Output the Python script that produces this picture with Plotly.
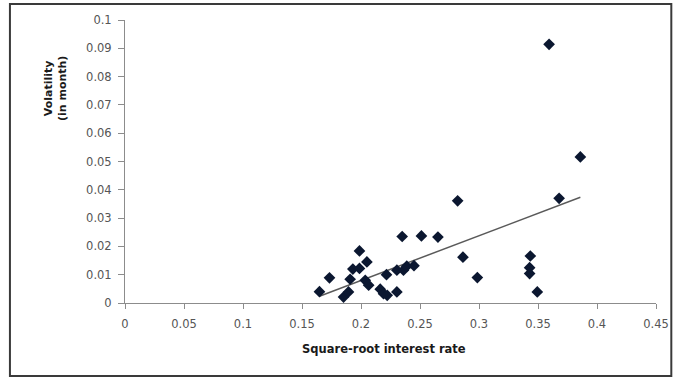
import numpy as np
import plotly.graph_objects as go

# Square-root interest rate (x) and volatility in month (y)
sqrt_rate = [0.1648, 0.1733, 0.1852, 0.1894, 0.1908, 0.1931, 0.1987, 0.1987,
             0.2050, 0.2036, 0.2065, 0.2163, 0.2191, 0.2222, 0.2216, 0.2304,
             0.2304, 0.2360, 0.2388, 0.2449, 0.2349, 0.2512, 0.2652, 0.2819,
             0.2864, 0.2986, 0.3435, 0.3429, 0.3429, 0.3494, 0.3679, 0.3594,
             0.3859]
volatility = [0.0040, 0.0089, 0.0021, 0.0039, 0.0084, 0.0120, 0.0122, 0.0184,
              0.0145, 0.0080, 0.0063, 0.0049, 0.0033, 0.0027, 0.0100, 0.0039,
              0.0116, 0.0116, 0.0130, 0.0132, 0.0235, 0.0237, 0.0233, 0.0361,
              0.0162, 0.0090, 0.0166, 0.0125, 0.0104, 0.0039, 0.0370, 0.0914,
              0.0516]

x_ticks = [0, 0.05, 0.1, 0.15, 0.2, 0.25, 0.3, 0.35, 0.4, 0.45]
x_tick_labels = ["0", "0.05", "0.1", "0.15", "0.2", "0.25", "0.3", "0.35", "0.4", "0.45"]
y_ticks = [0, 0.01, 0.02, 0.03, 0.04, 0.05, 0.06, 0.07, 0.08, 0.09, 0.1]
y_tick_labels = ["0", "0.01", "0.02", "0.03", "0.04", "0.05", "0.06", "0.07", "0.08", "0.09", "0.1"]

# Linear trendline (least squares) over the data range
slope, intercept = np.polyfit(sqrt_rate, volatility, 1)
trend_x = [min(sqrt_rate), max(sqrt_rate)]
trend_y = [slope * v + intercept for v in trend_x]

fig = go.Figure()
fig.add_trace(go.Scatter(
    x=trend_x, y=trend_y, mode="lines",
    line=dict(color="#5a5a5a", width=1.5), hoverinfo="skip", showlegend=False))
fig.add_trace(go.Scatter(
    x=sqrt_rate, y=volatility, mode="markers",
    marker=dict(symbol="diamond", size=9, color="#0b1730"), showlegend=False))

W, H = 680, 377
ml, mr, mt, mb = 125, 24.3, 20, 74.3
pw, ph = W - ml - mr, H - mt - mb


def px_x(p):
    return (p - ml) / pw


def px_y(p):
    return (H - mb - p) / ph


axis_font = dict(family="DejaVu Sans, Verdana, sans-serif", size=11.5, color="#555555")
title_font = dict(family="DejaVu Sans, Verdana, sans-serif", size=11, color="#1a1a1a")

fig.update_layout(
    width=W, height=H,
    margin=dict(l=ml, r=mr, t=mt, b=mb),
    paper_bgcolor="white", plot_bgcolor="white",
    xaxis=dict(range=[0, 0.45], tickvals=x_ticks, ticktext=x_tick_labels,
               showgrid=False, zeroline=False, showline=True, linecolor="#8c8c8c",
               linewidth=1, ticks="outside", ticklen=5, tickcolor="#8c8c8c",
               ticklabelstandoff=5, tickfont=axis_font, fixedrange=True),
    yaxis=dict(range=[0, 0.1], tickvals=y_ticks, ticktext=y_tick_labels,
               showgrid=False, zeroline=False, showline=True, linecolor="#8c8c8c",
               linewidth=1, ticks="outside", ticklen=6, tickcolor="#8c8c8c",
               ticklabelstandoff=4, tickfont=axis_font, fixedrange=True),
    shapes=[dict(type="rect", xref="paper", yref="paper",
                 x0=px_x(10), x1=px_x(671), y0=px_y(375.5), y1=px_y(4),
                 line=dict(color="#3a3a3a", width=2), fillcolor="rgba(0,0,0,0)")],
    annotations=[
        dict(text="<b>Volatility<br>(in month)</b>", xref="paper", yref="paper",
             x=px_x(55), y=px_y(88), textangle=-90, showarrow=False,
             font=title_font, xanchor="center", yanchor="middle"),
        dict(text="<b>Square-root interest rate</b>", xref="paper", yref="paper",
             x=px_x(384), y=px_y(349), showarrow=False,
             font=dict(family="DejaVu Sans, Verdana, sans-serif", size=11.5, color="#1a1a1a"),
             xanchor="center", yanchor="middle"),
    ],
)

fig.write_html("out.html")
